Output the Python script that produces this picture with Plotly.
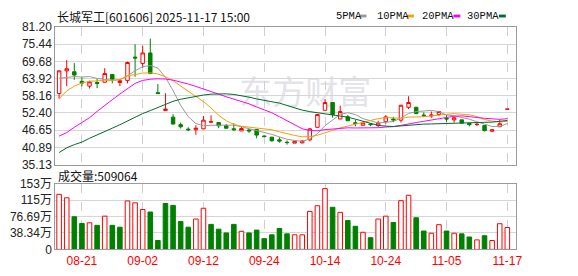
import plotly.graph_objects as go

W, H = 578, 276

dates = ["08-18","08-19","08-20","08-21","08-22","08-25","08-26","08-27","08-28","08-29",
         "09-01","09-02","09-03","09-04","09-05","09-08","09-09","09-10","09-11","09-12",
         "09-15","09-16","09-17","09-18","09-19","09-22","09-23","09-24","09-25","09-26",
         "09-29","09-30","10-09","10-10","10-13","10-14","10-15","10-16","10-17","10-20",
         "10-21","10-22","10-23","10-24","10-27","10-28","10-29","10-30","10-31","11-03",
         "11-04","11-05","11-06","11-07","11-10","11-11","11-12","11-13","11-14","11-17"]

opens = [58.9, 66.5, 66.2, 63.0, 61.4, 62.6, 62.7, 65.3, 62.6, 63.3,
         71.1, 69.0, 72.5, 59.2, 53.2, 51.0, 48.5, 47.0, 46.8, 47.1,
         49.3, 49.2, 48.2, 47.1, 46.4, 46.7, 46.9, 44.7, 44.3, 43.4,
         42.6, 42.3, 42.4, 43.4, 47.6, 53.3, 55.9, 50.4, 51.1, 49.1,
         48.3, 48.7, 48.2, 49.5, 50.4, 50.0, 54.3, 54.3, 51.7, 51.4,
         51.9, 50.6, 50.1, 50.1, 48.9, 48.5, 48.2, 46.3, 47.8, 53.66]
highs = [66.6, 70.1, 69.1, 64.5, 63.2, 63.8, 67.4, 65.4, 63.3, 69.6,
         75.4, 74.9, 77.3, 62.1, 59.0, 52.0, 49.2, 47.6, 48.3, 51.4,
         51.6, 49.2, 48.7, 49.0, 47.9, 47.1, 47.0, 44.8, 44.4, 44.3,
         43.2, 43.1, 43.4, 47.3, 52.0, 57.0, 56.0, 54.9, 51.7, 50.1,
         49.6, 48.9, 49.8, 51.7, 51.1, 55.1, 58.0, 54.5, 52.6, 52.9,
         53.1, 51.7, 51.3, 50.1, 49.0, 49.2, 48.2, 47.0, 50.1, 53.68]
lows = [57.1, 61.4, 63.5, 61.3, 60.6, 60.7, 62.6, 62.3, 61.4, 62.3,
        64.5, 67.5, 65.5, 58.9, 53.1, 48.6, 47.2, 46.3, 45.1, 46.9,
        49.3, 47.3, 47.1, 46.5, 46.4, 45.8, 43.9, 44.3, 42.8, 42.5,
        41.8, 42.3, 42.2, 42.9, 47.6, 53.2, 50.8, 50.3, 49.7, 47.9,
        48.2, 48.0, 47.7, 48.8, 49.3, 49.2, 53.7, 52.0, 51.1, 50.8,
        51.4, 49.4, 49.2, 49.0, 47.9, 48.1, 46.2, 46.0, 47.8, 53.66]
closes = [66.5, 67.2, 65.1, 62.4, 62.8, 62.3, 65.6, 63.7, 63.2, 69.3,
          70.8, 72.5, 65.6, 58.9, 53.7, 48.7, 47.8, 46.8, 47.3, 50.0,
          49.5, 48.1, 47.3, 46.8, 47.2, 46.4, 45.0, 44.5, 43.1, 43.0,
          42.5, 42.9, 43.0, 47.1, 51.9, 55.9, 51.9, 52.9, 49.8, 48.9,
          49.1, 48.5, 49.0, 51.1, 50.1, 55.0, 55.9, 52.2, 51.5, 51.7,
          52.9, 50.4, 50.8, 49.0, 48.5, 48.6, 46.5, 46.8, 48.8, 53.68]

# volume in 万
volumes = [128.3, 120.2, 75.9, 60.4, 61.9, 56.0, 77.4, 56.0, 51.6, 112.8,
           108.4, 92.9, 87.0, 20.6, 106.9, 102.5, 64.8, 51.6, 70.7, 95.8,
           58.2, 47.1, 38.3, 58.2, 42.0, 38.3, 44.9, 25.0, 33.9, 48.6,
           36.1, 33.9, 33.9, 88.5, 101.7, 141.6, 98.0, 86.2, 67.1, 53.8,
           39.8, 27.2, 70.7, 77.4, 62.6, 113.5, 126.1, 73.7, 42.7, 37.6,
           57.5, 42.7, 37.6, 36.1, 28.8, 22.1, 31.7, 20.6, 59.8, 50.9064]

ma5 = [64.0, 64.3, 64.6, 64.4, 64.6, 63.96, 63.64, 63.36, 63.52, 64.82,
       66.52, 67.90, 68.28, 67.42, 64.30, 59.88, 54.94, 51.18, 48.86, 48.12,
       48.28, 48.34, 48.44, 48.34, 47.78, 47.16, 46.54, 45.98, 45.24, 44.40,
       43.62, 43.20, 42.90, 43.70, 45.48, 48.16, 49.96, 51.94, 52.48, 51.88,
       50.52, 49.84, 49.06, 49.32, 49.56, 50.74, 52.22, 52.86, 52.94, 53.26,
       52.84, 51.74, 51.46, 50.96, 50.32, 49.46, 48.68, 47.88, 47.84, 48.88]
ma10 = [57.16, 59.8, 61.4, 62.46, 62.99, 63.2, 63.31, 63.35, 63.62, 64.81,
        65.24, 65.77, 65.82, 65.47, 64.56, 63.20, 61.42, 59.73, 58.14, 56.21,
        54.08, 51.64, 49.81, 48.60, 47.95, 47.72, 47.44, 47.21, 46.79, 46.09,
        45.39, 44.87, 44.44, 44.47, 44.94, 45.89, 46.58, 47.42, 48.09, 48.68,
        49.34, 49.90, 50.50, 50.90, 50.72, 50.63, 51.03, 50.96, 51.13, 51.41,
        51.79, 51.98, 52.16, 51.95, 51.79, 51.15, 50.21, 49.67, 49.40, 49.60]
ma20 = [44.67, 45.84, 47.63, 49.22, 50.81, 52.93, 55.05, 56.85, 58.75, 60.6,
        62.3, 63.3, 63.7, 63.84, 63.75, 63.4, 62.8, 62.1, 61.3, 60.51,
        59.66, 58.71, 57.82, 57.04, 56.26, 55.46, 54.43, 53.47, 52.47, 51.15,
        49.74, 48.26, 47.13, 46.54, 46.45, 46.81, 47.01, 47.32, 47.44, 47.39,
        47.37, 47.39, 47.47, 47.69, 47.83, 48.26, 48.81, 49.19, 49.61, 50.05,
        50.57, 50.94, 51.33, 51.43, 51.26, 50.89, 50.62, 50.32, 50.27, 50.50]
ma30 = [39.16, 40.75, 41.81, 42.66, 43.93, 44.98, 46.25, 47.31, 48.48, 49.75,
        51.0, 52.2, 53.2, 54.3, 55.4, 56.3, 57.0, 57.5, 58.0, 58.4,
        58.7, 58.8, 58.8, 58.6, 58.2, 57.7, 57.1, 56.6, 56.1, 55.70,
        54.90, 54.09, 53.36, 52.85, 52.48, 52.27, 51.81, 51.45, 51.01, 50.33,
        49.60, 48.80, 48.25, 47.99, 47.87, 48.08, 48.35, 48.53, 48.67, 48.73,
        48.84, 48.92, 49.03, 49.11, 49.15, 49.22, 49.27, 49.35, 49.54, 49.90]

tick_dates = ["08-21", "09-02", "09-12", "09-24", "10-14", "10-24", "11-05", "11-17"]
price_ticks = [35.13, 40.889, 46.648, 52.407, 58.166, 63.925, 69.684, 75.443, 81.20]
price_labels = ["35.13", "40.89", "46.65", "52.40", "58.16", "63.92", "69.68", "75.44", "81.20"]
vol_ticks = [0, 38.345, 76.69, 115.035, 153.38]
vol_labels = ["0", "38.34万", "76.69万", "115万", "153万"]

title_text = "长城军工[601606] 2025-11-17 15:00"
vol_title = "成交量:509064"
ma_names = ["5PMA", "10PMA", "20PMA", "30PMA"]
ma_colors = ["#9a9a9a", "#f5a000", "#ff00ff", "#006a30"]

RED = "#ff0000"
GREEN = "#008000"

# volume colors: by close vs previous close
vol_fill, vol_line = [], []
for i, c in enumerate(closes):
    up = True if i == 0 else c >= closes[i - 1]
    vol_fill.append("#ffffff" if up else GREEN)
    vol_line.append(RED if up else GREEN)

fig = go.Figure()

fig.add_trace(go.Candlestick(
    x=dates, open=opens, high=highs, low=lows, close=closes,
    increasing=dict(line=dict(color=RED, width=1), fillcolor="#ffffff"),
    decreasing=dict(line=dict(color=GREEN, width=1), fillcolor=GREEN),
    whiskerwidth=0, showlegend=False, hoverinfo="skip",
    xaxis="x", yaxis="y"))

for vals, col in zip([ma5, ma10, ma20, ma30], ma_colors):
    fig.add_trace(go.Scatter(x=dates, y=vals, mode="lines",
                             line=dict(color=col, width=1),
                             showlegend=False, hoverinfo="skip",
                             xaxis="x", yaxis="y"))

fig.add_trace(go.Bar(x=dates, y=volumes, width=0.6,
                     marker=dict(color=vol_fill, line=dict(color=vol_line, width=1)),
                     showlegend=False, hoverinfo="skip",
                     xaxis="x2", yaxis="y2"))

xdom = [56 / W, 522 / W]
tickfont = dict(family="Liberation Sans, Noto Sans CJK SC", size=12, color="#222222")
common_x = dict(domain=xdom, type="category", categoryorder="array", categoryarray=dates,
                range=[-0.5, 60.1], tickvals=tick_dates, showgrid=True,
                gridcolor="#cfcfcf", griddash="dash", gridwidth=1,
                showline=True, mirror=True, linecolor="#9a9a9a", linewidth=1,
                zeroline=False, ticks="", fixedrange=True)
common_y = dict(showgrid=True, gridcolor="#d6d6d6", gridwidth=1, showline=True,
                mirror=True, linecolor="#9a9a9a", linewidth=1, zeroline=False,
                ticks="", tickfont=tickfont, fixedrange=True)

fig.update_layout(
    width=W, height=H, margin=dict(l=0, r=0, t=0, b=0),
    paper_bgcolor="white", plot_bgcolor="white",
    boxgap=0.35,
    xaxis=dict(common_x, anchor="y", showticklabels=False, rangeslider=dict(visible=False)),
    yaxis=dict(common_y, domain=[1 - 166 / H, 1 - 21 / H], range=[35.13, 81.20],
               tickvals=price_ticks, ticktext=price_labels, anchor="x"),
    xaxis2=dict(common_x, anchor="y2", showticklabels=True, ticktext=tick_dates,
                tickfont=dict(family="Liberation Sans", size=12, color=RED)),
    yaxis2=dict(common_y, domain=[1 - 255.3 / H, 1 - 186 / H], range=[0, 153.38],
                tickvals=vol_ticks, ticktext=vol_labels, anchor="x2"),
)

annotations = [
    dict(text=title_text, x=56 / W, y=1 - 10 / H, xref="paper", yref="paper",
         xanchor="left", yanchor="middle", showarrow=False,
         font=dict(family="Noto Sans CJK SC", size=12, color="#111111")),
    dict(text=vol_title, x=57 / W, y=1 - 178 / H, xref="paper", yref="paper",
         xanchor="left", yanchor="middle", showarrow=False,
         font=dict(family="Noto Sans CJK SC", size=12, color="#111111")),
]
shapes = [
    dict(type="rect", xref="paper", yref="paper", x0=236 / W, x1=382 / W,
         y0=1 - 112 / H, y1=1 - 74 / H, line=dict(width=0), fillcolor="rgba(0,0,0,0)",
         layer="below",
         label=dict(text="东方财富", font=dict(family="Noto Sans CJK SC", size=33, color="#e3e3e8"),
                    textposition="middle center")),
]
leg_text_x = [338, 380, 425, 471]
leg_box_x = [364, 412, 459, 505]
for name, col, tx, bx in zip(ma_names, ma_colors, leg_text_x, leg_box_x):
    annotations.append(dict(text=name, x=tx / W, y=1 - 9 / H, xref="paper", yref="paper",
                            xanchor="left", yanchor="middle", showarrow=False,
                            font=dict(family="Liberation Mono", size=10.5, color="#111111")))
    shapes.append(dict(type="rect", xref="paper", yref="paper", x0=bx / W, x1=(bx + 7) / W,
                       y0=1 - 11 / H, y1=1 - 8 / H, line=dict(width=0), fillcolor=col))

fig.update_layout(annotations=annotations, shapes=shapes)

fig.write_html("out.html", config={"displayModeBar": False})
